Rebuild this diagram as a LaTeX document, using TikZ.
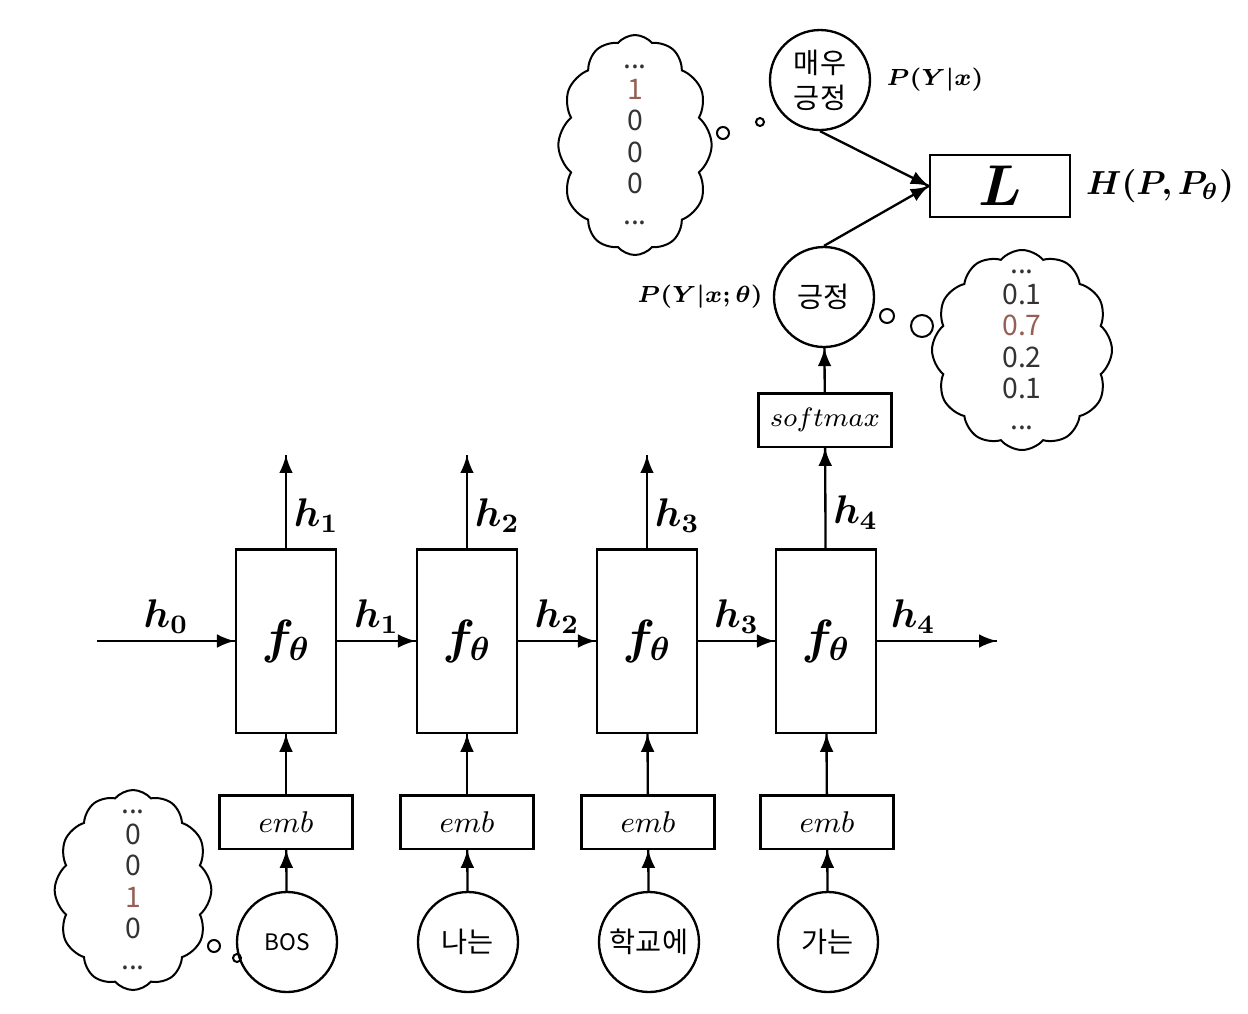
\documentclass[tikz,border=0pt]{standalone}
\usepackage{amsmath,bm}
\usepackage{fontspec}
\newfontfamily\krfont{Noto Sans CJK KR}
\usetikzlibrary{arrows,decorations.markings,positioning,shapes.symbols}
\definecolor{hotone}{RGB}{150,95,85}
\tikzset{
    >=latex,
    cellbox/.style={draw,line width=0.7pt,minimum width=30pt,minimum height=55pt,font=\Large},
    embbox/.style={draw,line width=0.7pt,minimum width=40pt,minimum height=16pt,font=\small},
    lossbox/.style={draw,line width=0.7pt,minimum width=42pt,minimum height=17pt,font=\LARGE},
    wordnode/.style={circle,draw,line width=0.7pt,minimum size=30pt,inner sep=0pt,font=\krfont\fontsize{8.5}{10.5}\selectfont},
    vecbox/.style={cloud,cloud puffs=12,cloud puff arc=100,cloud ignores aspect,draw,line width=0.6pt,align=center,
        inner xsep=2pt,inner ysep=-10pt,text=black!80,font=\krfont\fontsize{8.5}{9.4}\selectfont},
    bubble/.style={circle,draw,line width=0.6pt,inner sep=0pt},
    hlabel/.style={font=\large,inner sep=2pt},
    plabel/.style={font=\scriptsize,inner sep=0pt},
    line/.style={line width=0.7pt},
    arrowfwd/.style={line width=0.7pt,decoration={markings,mark=at position 1 with {\arrow[scale=1.1]{>}}},postaction={decorate}}
}

\begin{document}
\begin{tikzpicture}[x=0.3pt,y=-0.3pt]
    \useasboundingbox (0,0) rectangle (1248,1014);

    % recurrent cells
    \node[cellbox] (f1) at (286,641) {$\bm{f_{\theta}}$};
    \node[cellbox] (f2) at (467,641) {$\bm{f_{\theta}}$};
    \node[cellbox] (f3) at (647,641) {$\bm{f_{\theta}}$};
    \node[cellbox] (f4) at (826,641) {$\bm{f_{\theta}}$};

    \node[embbox] (e1) at (286,822) {$emb$};
    \node[embbox] (e2) at (467,822) {$emb$};
    \node[embbox] (e3) at (648,822) {$emb$};
    \node[embbox] (e4) at (827,822) {$emb$};

    \node[wordnode,font=\krfont\fontsize{6.8}{8}\selectfont] (w1) at (287,942) {BOS};
    \node[wordnode] (w2) at (468,942) {나는};
    \node[wordnode] (w3) at (649,942) {학교에};
    \node[wordnode] (w4) at (828,942) {가는};

    \coordinate (hin) at (97,641);
    \coordinate (hout) at (997,641);
    \coordinate (o1) at (286,455);
    \coordinate (o2) at (467,455);
    \coordinate (o3) at (647,455);

    % output side
    \node[embbox,font=\footnotesize] (smax) at (825,420) {$softmax$};
    \node[wordnode] (pos) at (824,297) {긍정};
    \node[wordnode,align=center] (vpos) at (820,80) {매우\\긍정};
    \node[lossbox] (loss) at (1000,186) {$\bm{L}$};

    \node[plabel] (ptrue) at (935,80) {$\bm{P(Y|x)}$};
    \node[plabel] (pmodel) at (700,297) {$\bm{P(Y|x;\theta)}$};
    \node[hlabel,font=\normalsize] (ce) at (1160,186) {$\bm{H(P,P_{\theta})}$};

    % one-hot and probability vectors
    \node[vecbox,minimum width=46pt,minimum height=66pt] (vtrue) at (635,145)
        {...\\{\color{hotone}1}\\0\\0\\0\\...};
    \node[vecbox,minimum width=54pt,minimum height=60pt] (vprob) at (1022,350)
        {...\\0.1\\{\color{hotone}0.7}\\0.2\\0.1\\...};
    \node[vecbox,minimum width=47pt,minimum height=60pt] (vbos) at (133,890)
        {...\\0\\0\\{\color{hotone}1}\\0\\...};

    \node[bubble,minimum size=3.6pt] (bt1) at (723,133) {};
    \node[bubble,minimum size=2.4pt] (bt2) at (760,122) {};
    \node[bubble,minimum size=4.2pt] (bp1) at (887,316) {};
    \node[bubble,minimum size=6.6pt] (bp2) at (922,326) {};
    \node[bubble,minimum size=3.6pt] (bb1) at (214,946) {};
    \node[bubble,minimum size=2.4pt] (bb2) at (237,958) {};

    \begin{scope}
        \draw[arrowfwd] (hin) -- (f1) node[hlabel,midway,above] {$\bm{h_0}$};
        \draw[arrowfwd] (f1) -- (f2) node[hlabel,midway,above] {$\bm{h_1}$};
        \draw[arrowfwd] (f2) -- (f3) node[hlabel,midway,above] {$\bm{h_2}$};
        \draw[arrowfwd] (f3) -- (f4) node[hlabel,midway,above] {$\bm{h_3}$};
        \draw[arrowfwd] (f4) -- (hout) node[hlabel,pos=0.3,above] {$\bm{h_4}$};

        \draw[arrowfwd] (f1) -- (o1) node[hlabel,pos=0.35,right] {$\bm{h_1}$};
        \draw[arrowfwd] (f2) -- (o2) node[hlabel,pos=0.35,right] {$\bm{h_2}$};
        \draw[arrowfwd] (f3) -- (o3) node[hlabel,pos=0.35,right] {$\bm{h_3}$};
        \draw[arrowfwd] (f4) -- (smax) node[hlabel,pos=0.35,right] {$\bm{h_4}$};

        \draw[arrowfwd] (e1) -- (f1);
        \draw[arrowfwd] (e2) -- (f2);
        \draw[arrowfwd] (e3) -- (f3);
        \draw[arrowfwd] (e4) -- (f4);
        \draw[arrowfwd] (w1) -- (e1);
        \draw[arrowfwd] (w2) -- (e2);
        \draw[arrowfwd] (w3) -- (e3);
        \draw[arrowfwd] (w4) -- (e4);

        \draw[arrowfwd] (smax) -- (pos);
        \draw[arrowfwd] (vpos.south) -- (loss.west);
        \draw[arrowfwd] (pos.north) -- (loss.west);
    \end{scope}
\end{tikzpicture}
\end{document}
